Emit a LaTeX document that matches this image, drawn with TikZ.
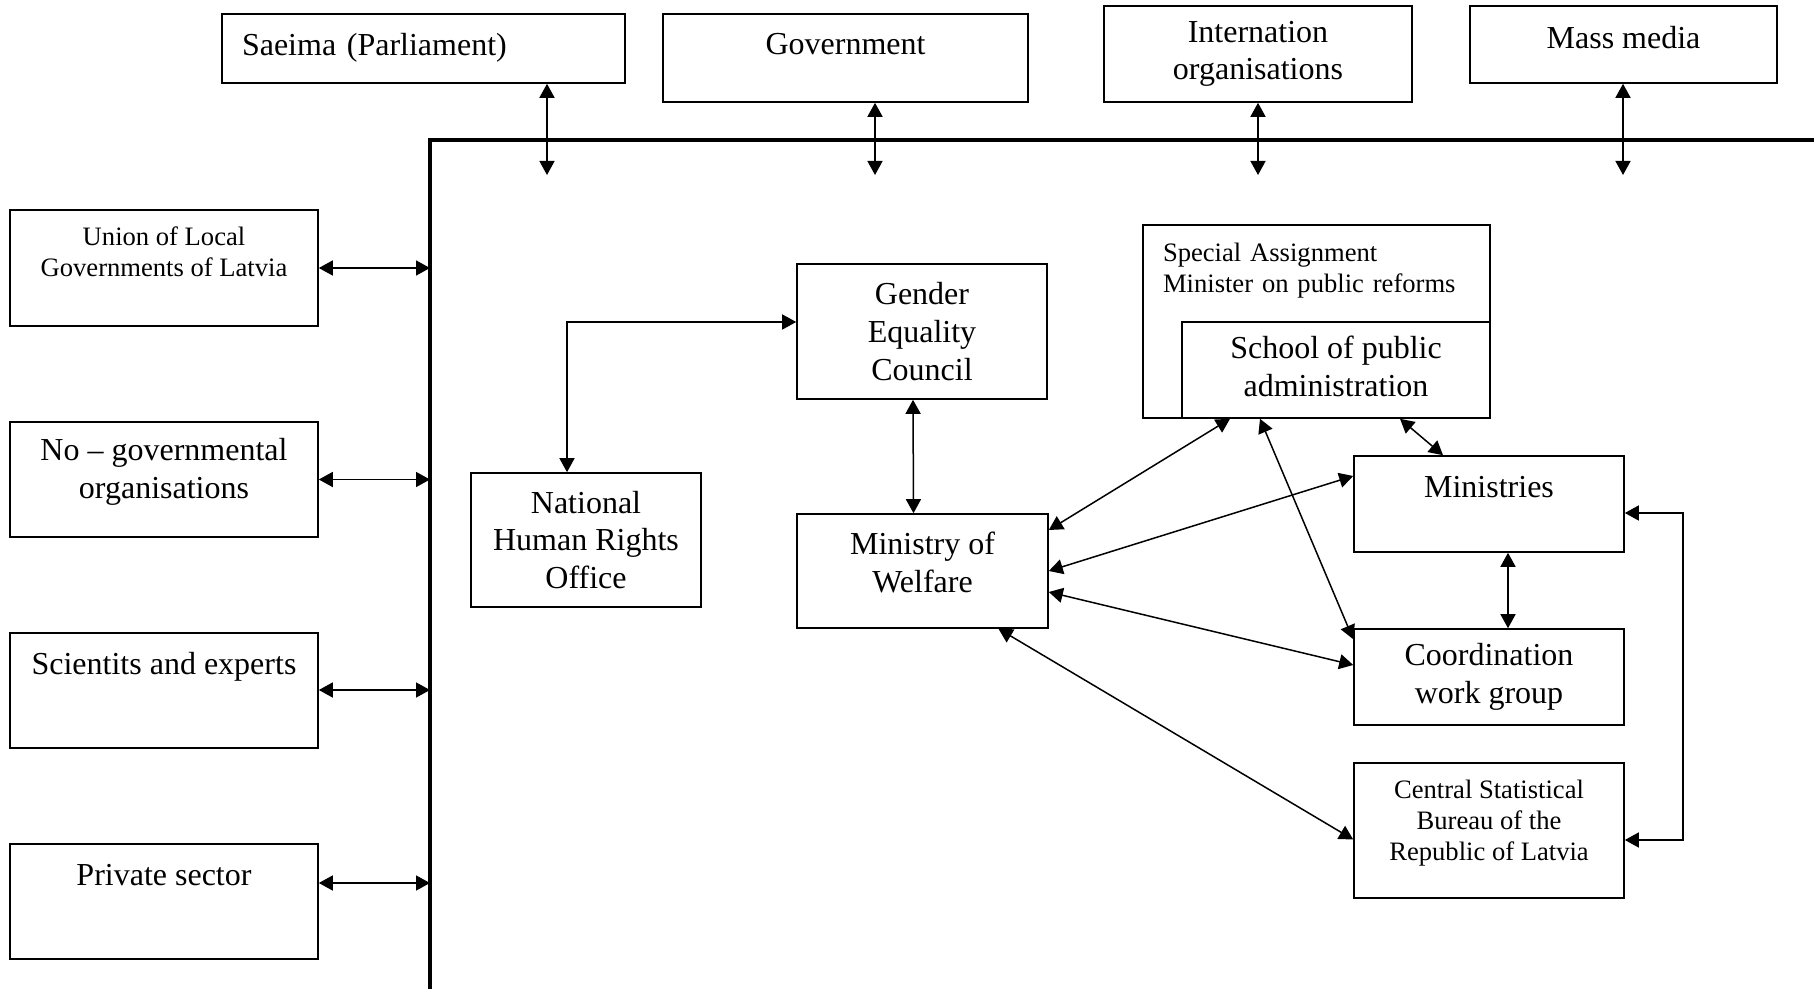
\documentclass[tikz,border=0pt]{standalone}
\usepackage{fontspec}
\setmainfont{Liberation Serif}
\usetikzlibrary{arrows.meta}
\newcommand{\bigtxt}{\fontsize{16}{18.8}\selectfont}
\newcommand{\smalltxt}{\fontsize{13.3}{15.5}\selectfont}
\newcommand{\vpad}[1]{\rule[-#1]{0pt}{0pt}}

\begin{document}
\begin{tikzpicture}[x=0.5pt,y=-0.5pt,every node/.style={font=\bigtxt},
    org/.style={draw,line width=0.8pt,fill=white,align=center,inner sep=2pt},
    link/.style={line width=0.75pt,>={Triangle[length=7pt,width=7.5pt]},<->},
    frame/.style={line width=2pt}]
  \useasboundingbox (0,0) rectangle (1814,989);
  \node[org,inner xsep=10pt,text width=181.5pt,align=left,minimum height=34.5pt] (saeima) at (423.5,48.5) {Saeima (Parliament)\vpad{4.5pt}};
  \node[org,minimum width=182.5pt,minimum height=44pt] (gov) at (845.5,58) {Government\vpad{14pt}};
  \node[org,minimum width=154pt,minimum height=48pt] (intl) at (1258,54) {Internation\\organisations};
  \node[org,minimum width=153.5pt,minimum height=38.5pt] (media) at (1623.5,44.5) {Mass media\vpad{7.5pt}};
  \node[org,font=\smalltxt,minimum width=154pt,minimum height=58pt] (union) at (164,268) {Union of Local\\Governments of Latvia\vpad{16pt}};
  \node[org,minimum width=154pt,minimum height=57.5pt] (ngo) at (164,479.5) {No -- governmental\\organisations\vpad{11pt}};
  \node[org,minimum width=154pt,minimum height=57.5pt] (sci) at (164,690.5) {Scientits and experts\vpad{27.5pt}};
  \node[org,minimum width=154pt,minimum height=57.5pt] (priv) at (164,901.5) {Private sector\vpad{26.5pt}};
  \node[org,minimum width=115pt,minimum height=67pt] (nhro) at (586,540) {National\\Human Rights\\Office};
  \node[org,minimum width=125pt,minimum height=67.5pt] (gec) at (922,331.5) {Gender\\Equality\\Council};
  \node[org,minimum width=125.5pt,minimum height=57pt] (mow) at (922.5,571) {Ministry of\\Welfare\vpad{9pt}};
  \node[org,font=\smalltxt,inner xsep=10pt,text width=153.5pt,align=left,minimum height=96.5pt] (special) at (1316.5,321.5) {Special Assignment\\Minister on public reforms\vpad{54pt}};
  \node[org,minimum width=154pt,minimum height=48pt] (school) at (1336,370) {School of public\\administration\vpad{3.5pt}};
  \node[org,minimum width=135pt,minimum height=48pt] (mins) at (1489,504) {Ministries\vpad{17pt}};
  \node[org,minimum width=135pt,minimum height=48pt] (coord) at (1489,677) {Coordination\\work group};
  \node[org,font=\smalltxt,minimum width=135pt,minimum height=67.5pt] (stat) at (1489,830.5) {Central Statistical\\Bureau of the\\Republic of Latvia\vpad{10.5pt}};

  \draw[frame] (430,1000) -- (430,140) -- (1830,140);
  \coordinate (t1) at (547,175);
  \coordinate (t2) at (875,175);
  \coordinate (t3) at (1258,175);
  \coordinate (t4) at (1623,175);
  \coordinate (l1) at (430,268);
  \coordinate (l2) at (430,479.5);
  \coordinate (l3) at (430,690);
  \coordinate (l4) at (430,883);
  \coordinate (k1) at (567,322);

  \draw[link] (saeima.south -| t1) -- (t1);
  \draw[link] (gov.south -| t2) -- (t2);
  \draw[link] (intl.south -| t3) -- (t3);
  \draw[link] (media.south -| t4) -- (t4);
  \draw[link] (union.east |- l1) -- (l1);
  \draw[link] (ngo.east |- l2) -- (l2);
  \draw[link] (sci.east |- l3) -- (l3);
  \draw[link] (priv.east |- l4) -- (l4);
  \draw[link] (nhro.north -| k1) |- (gec.west |- k1);
  \draw[link] ([xshift=-4.5pt]gec.south) -- ([xshift=-4.5pt]mow.north);
  \draw[link] ([yshift=20.5pt]mow.east) -- ([xshift=-53pt]school.south);
  \draw[link] (mow.east) -- ([yshift=14pt]mins.west);
  \draw[link] ([yshift=-10.5pt]mow.east) -- ([yshift=6pt]coord.west);
  \draw[link] ([xshift=38pt]mow.south) -- ([yshift=-4.5pt]stat.west);
  \draw[link] ([xshift=-38pt]school.south) -- ([yshift=-5.5pt]coord.north west);
  \draw[link] ([xshift=32pt]school.south) -- ([xshift=-23pt]mins.north);
  \draw[link] ([xshift=9.5pt]mins.south) -- ([xshift=9.5pt]coord.north);
  \draw[link] ([yshift=-4.5pt]mins.east) -- ++(29pt,0) |- ([yshift=-4.75pt]stat.east);
\end{tikzpicture}
\end{document}
